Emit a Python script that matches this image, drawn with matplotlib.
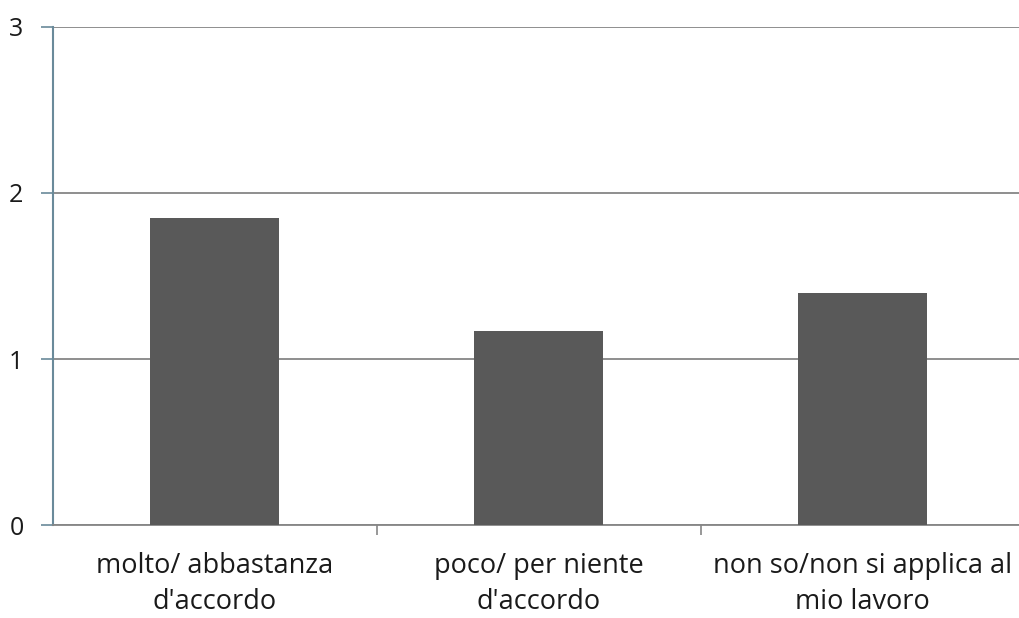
import matplotlib
matplotlib.use('Agg')
import matplotlib.pyplot as plt
import numpy as np

# Data
categories = ["molto/ abbastanza\nd'accordo",
              "poco/ per niente\nd'accordo",
              "non so/non si applica al\nmio lavoro"]
values = [1.85, 1.17, 1.40]
yticks = [0, 1, 2, 3]

plt.rcParams['font.family'] = ['Open Sans', 'DejaVu Sans']

fig = plt.figure(figsize=(10.2, 6.18), dpi=100)
# plot area runs slightly past the right edge, as in the source
ax = fig.add_axes([52.7 / 1020, 1 - 525.3 / 618, 972 / 1020, (525.3 - 26.7) / 618])

x = np.arange(len(categories))
ax.bar(x, values, width=0.4, color='#595959', zorder=3)

ax.set_xlim(-0.5, len(categories) - 0.5)
ax.set_ylim(0, 3)
ax.set_yticks(yticks)
ax.set_yticklabels([str(t) for t in yticks], fontsize=18, color='#1a1a1a')
ax.yaxis.grid(True, color='#868686', linewidth=1.3, zorder=0)
ax.set_axisbelow(True)

# category labels centred, ticks at category boundaries
ax.set_xticks(x)
ax.set_xticklabels(categories, fontsize=19.5, color='#1a1a1a', linespacing=1.4)
ax.tick_params(axis='x', length=0, pad=19)
ax.set_xticks(np.arange(0.5, len(categories) - 0.5, 1), minor=True)
ax.tick_params(axis='x', which='minor', length=7, color='#868686', width=1.2)
ax.tick_params(axis='y', length=9, color='#6a8a9a', width=1.2, pad=12)

for side in ['top', 'right']:
    ax.spines[side].set_visible(False)
ax.spines['left'].set_color('#6a8a9a')
ax.spines['left'].set_linewidth(1.5)
ax.spines['bottom'].set_color('#868686')
ax.spines['bottom'].set_linewidth(1.3)

fig.savefig('out.png', dpi=100)
